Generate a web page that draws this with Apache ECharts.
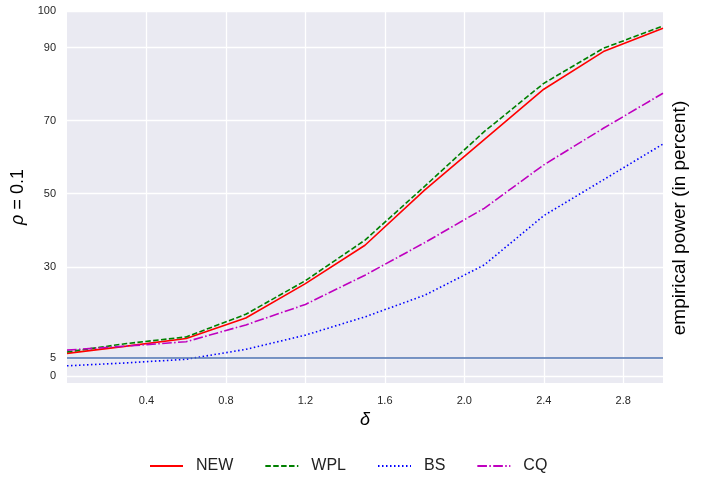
<!DOCTYPE html>
<html><head><meta charset="utf-8">
<script src="https://cdn.jsdelivr.net/npm/echarts@6/dist/echarts.min.js"></script>
<style>html,body{margin:0;padding:0;background:#fff}#c{width:711px;height:478px}</style>
</head><body><div id="c"></div>
<script>
const delta = [0, 0.3, 0.6, 0.9, 1.2, 1.5, 1.8, 2.1, 2.4, 2.7, 3.0];
const NEW = [6.3, 8.3, 10.4, 16.0, 25.4, 35.9, 51.0, 64.8, 78.6, 88.9, 95.3];
const WPL = [6.7, 9.0, 10.8, 17.0, 26.2, 37.3, 52.0, 67.0, 80.2, 89.8, 95.9];
const BS  = [2.9, 3.7, 4.7, 7.4, 11.3, 16.3, 22.2, 30.5, 44.0, 53.8, 63.6];
const CQ  = [7.2, 8.3, 9.5, 14.1, 19.7, 27.7, 36.6, 46.0, 57.9, 67.9, 77.5];
const xTicks = [0.4, 0.8, 1.2, 1.6, 2.0, 2.4, 2.8];
const yTicks = [0, 5, 30, 50, 70, 90, 100];
const refLevel = 5;

const pair = arr => delta.map((d, i) => [d, arr[i]]);
const FONT = '"Liberation Sans", Arial, sans-serif';

const chart = echarts.init(document.getElementById('c'), null, {renderer: 'canvas'});
const mk = (name, data, color, type, extra) => Object.assign({
  name, type: 'line', data: pair(data), symbol: 'none', showSymbol: false,
  lineStyle: {color, width: 1.6, type, cap: 'butt'}, itemStyle: {color, opacity: 0},
  emphasis: {disabled: true}, animation: false, z: 3
}, extra || {});

chart.setOption({
  animation: false,
  backgroundColor: '#fff',
  grid: {left: 67, top: 11, right: 48, bottom: 95, show: true, backgroundColor: '#eaeaf2', borderWidth: 0},
  xAxis: {
    type: 'value', min: 0, max: 3,
    axisLine: {show: false}, axisTick: {show: false, customValues: xTicks},
    axisLabel: {customValues: xTicks, color: '#262626', fontFamily: FONT, fontSize: 11, margin: 12,
      formatter: v => v.toFixed(1)},
    splitLine: {show: true, lineStyle: {color: '#fff', width: 1.3}},
    name: 'δ', nameLocation: 'middle', nameGap: 27,
    nameTextStyle: {fontFamily: FONT, fontSize: 18, fontStyle: 'italic', color: '#000'}
  },
  yAxis: {
    type: 'value', min: -1.8, max: 100,
    axisLine: {show: false}, axisTick: {show: false, customValues: yTicks},
    axisLabel: {customValues: yTicks, color: '#262626', fontFamily: FONT, fontSize: 11, margin: 11},
    splitLine: {show: true, lineStyle: {color: '#fff', width: 1.3}},
    name: '{i|ρ}{r| = 0.1}', nameLocation: 'middle', nameGap: 38, nameRotate: 90,
    nameTextStyle: {rich: {
      i: {fontFamily: FONT, fontSize: 18, fontStyle: 'italic', color: '#000'},
      r: {fontFamily: FONT, fontSize: 18, color: '#000'}
    }}
  },
  legend: {
    bottom: -1, left: 144, itemWidth: 33, itemHeight: 10, itemGap: 31,
    itemStyle: {opacity: 0},
    textStyle: {fontFamily: FONT, fontSize: 16, color: '#222', padding: [0, 0, 0, 8]},
    data: ['NEW', 'WPL', 'BS', 'CQ']
  },
  graphic: [{
    type: 'text', x: 680, y: 218, rotation: Math.PI / 2,
    style: {text: 'empirical power (in percent)', fontFamily: FONT, fontSize: 19, fill: '#000',
      align: 'center', verticalAlign: 'middle'}
  }],
  series: [
    mk('NEW', NEW, '#ff0000', 'solid', {
      markLine: {silent: true, symbol: 'none', label: {show: false}, animation: false,
        lineStyle: {color: '#4c72b0', width: 1.5, type: 'solid'}, data: [{yAxis: refLevel}]}
    }),
    mk('WPL', WPL, '#008000', [5.5, 2.4]),
    mk('BS', BS, '#0000ff', [1.5, 2.5]),
    mk('CQ', CQ, '#bf00bf', [9.6, 2.4, 1.5, 2.4])
  ]
});
</script></body></html>
